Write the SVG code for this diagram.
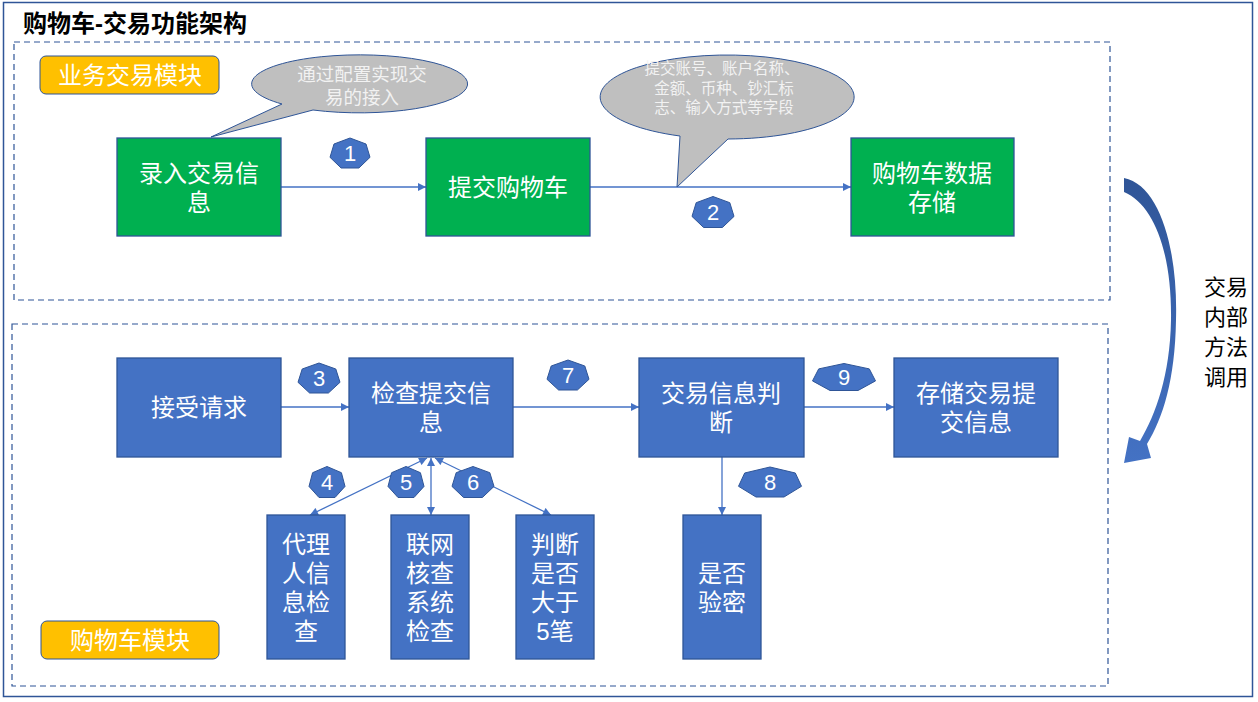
<svg xmlns="http://www.w3.org/2000/svg" width="1258" height="702" viewBox="0 0 1258 702">
<defs>
<style>
.t{font-family:"Liberation Sans","Noto Sans CJK SC",sans-serif;}
.w{fill:#FFFFFF;font-size:24px;text-anchor:middle;dominant-baseline:central;}
.w tspan{dominant-baseline:central;}
.g{fill:#00B050;stroke:#2F5597;stroke-width:1.3;}
.b{fill:#4472C4;stroke:#2F5597;stroke-width:1.3;}
.o{fill:#FFC000;stroke:#2F5597;stroke-width:1;}
.dash{fill:none;stroke:#2F5597;stroke-width:1.2;stroke-dasharray:6 4;}
.badge{fill:#4472C4;stroke:#2F5597;stroke-width:1;}
.num{fill:#FFFFFF;font-size:22px;text-anchor:middle;dominant-baseline:central;}
.conn{stroke:#4472C4;stroke-width:1.3;fill:none;}
.call{fill:#BFBFBF;stroke:#2F5597;stroke-width:1;}
.ct{fill:#F2F2F2;text-anchor:middle;dominant-baseline:central;}
.ct tspan{dominant-baseline:central;}
.side{fill:#000000;font-size:22px;text-anchor:middle;dominant-baseline:central;}
.side tspan{dominant-baseline:central;}
</style>
<marker id="ah" viewBox="0 0 10 10" refX="10" refY="5" markerWidth="9" markerHeight="8" markerUnits="userSpaceOnUse" orient="auto-start-reverse">
<path d="M0,0 L10,5 L0,10 z" fill="#4472C4"/>
</marker>
<linearGradient id="cg" x1="0" y1="0" x2="0" y2="1">
<stop offset="0" stop-color="#2F5597"/>
<stop offset="1" stop-color="#4472C4"/>
</linearGradient>
</defs>
<rect x="0" y="0" width="1258" height="702" fill="#FFFFFF"/>
<rect x="3.5" y="2.5" width="1249" height="694" fill="none" stroke="#2F5597" stroke-width="1.5"/>
<text class="t" x="23" y="23" font-size="24" font-weight="bold" fill="#000000" dominant-baseline="central">购物车-交易功能架构</text>

<rect class="dash" x="14" y="42" width="1096" height="258"/>
<rect class="dash" x="12" y="324" width="1096" height="362"/>

<g id="connectors">
<line class="conn" x1="281" y1="187" x2="426" y2="187" marker-end="url(#ah)"/>
<line class="conn" x1="590" y1="187" x2="851" y2="187" marker-end="url(#ah)"/>
<line class="conn" x1="281" y1="407" x2="349" y2="407" marker-end="url(#ah)"/>
<line class="conn" x1="513" y1="407" x2="639" y2="407" marker-end="url(#ah)"/>
<line class="conn" x1="804" y1="407" x2="894" y2="407" marker-end="url(#ah)"/>
<line class="conn" x1="722" y1="457" x2="722" y2="515" marker-end="url(#ah)"/>
<line class="conn" x1="427" y1="458" x2="310" y2="515" marker-start="url(#ah)" marker-end="url(#ah)"/>
<line class="conn" x1="431" y1="458" x2="431" y2="515" marker-start="url(#ah)" marker-end="url(#ah)"/>
<line class="conn" x1="435" y1="458" x2="551" y2="515" marker-start="url(#ah)" marker-end="url(#ah)"/>
</g>

<g id="label-business">
<rect class="o" x="40" y="56" width="179" height="38" rx="6"/>
<text class="t w" x="130" y="75">业务交易模块</text>
</g>
<g id="label-cart">
<rect class="o" x="41" y="621" width="178" height="38" rx="6"/>
<text class="t w" x="130" y="640">购物车模块</text>
</g>

<g id="callout-config">
<path class="call" d="M282,104 L211,137 L313,110 A108,29 0 1 0 282,104 Z"/>
<text class="t ct" font-size="18.5"><tspan x="362" y="74">通过配置实现交</tspan><tspan x="362" y="97">易的接入</tspan></text>
</g>
<g id="callout-fields">
<path class="call" d="M680,136 L677,187 L728,139 A127,42 0 1 0 680,136 Z"/>
<text class="t ct" font-size="15.5"><tspan x="722" y="68">提交账号、账户名称、</tspan><tspan x="724" y="88">金额、币种、钞汇标</tspan><tspan x="724" y="107">志、输入方式等字段</tspan></text>
</g>

<g id="node-input">
<rect class="g" x="117" y="138" width="164" height="98"/>
<text class="t w"><tspan x="199" y="173">录入交易信</tspan><tspan x="199" y="202">息</tspan></text>
</g>
<g id="node-submit">
<rect class="g" x="426" y="138" width="164" height="98"/>
<text class="t w" x="508" y="187">提交购物车</text>
</g>
<g id="node-store">
<rect class="g" x="851" y="138" width="163" height="98"/>
<text class="t w"><tspan x="932" y="173">购物车数据</tspan><tspan x="932" y="202">存储</tspan></text>
</g>

<g id="node-accept">
<rect class="b" x="117" y="358" width="164" height="99"/>
<text class="t w" x="199" y="407">接受请求</text>
</g>
<g id="node-check">
<rect class="b" x="349" y="358" width="164" height="99"/>
<text class="t w"><tspan x="431" y="393">检查提交信</tspan><tspan x="431" y="422">息</tspan></text>
</g>
<g id="node-judge">
<rect class="b" x="639" y="358" width="165" height="99"/>
<text class="t w"><tspan x="721" y="393">交易信息判</tspan><tspan x="721" y="422">断</tspan></text>
</g>
<g id="node-save">
<rect class="b" x="894" y="358" width="164" height="99"/>
<text class="t w"><tspan x="976" y="393">存储交易提</tspan><tspan x="976" y="422">交信息</tspan></text>
</g>

<g id="node-agent">
<rect class="b" x="267" y="515" width="78" height="144"/>
<text class="t w"><tspan x="306" y="544">代理</tspan><tspan x="306" y="573">人信</tspan><tspan x="306" y="602">息检</tspan><tspan x="306" y="631">查</tspan></text>
</g>
<g id="node-online">
<rect class="b" x="391" y="515" width="78" height="144"/>
<text class="t w"><tspan x="430" y="544">联网</tspan><tspan x="430" y="573">核查</tspan><tspan x="430" y="602">系统</tspan><tspan x="430" y="631">检查</tspan></text>
</g>
<g id="node-count">
<rect class="b" x="516" y="515" width="78" height="144"/>
<text class="t w"><tspan x="555" y="544">判断</tspan><tspan x="555" y="573">是否</tspan><tspan x="555" y="602">大于</tspan><tspan x="555" y="631">5笔</tspan></text>
</g>
<g id="node-pin">
<rect class="b" x="683" y="515" width="78" height="144"/>
<text class="t w"><tspan x="722" y="573">是否</tspan><tspan x="722" y="602">验密</tspan></text>
</g>

<g id="badge-1"><polygon class="badge" points="350,138 366,144 370,157.3 358.9,168 341.1,168 330,157.3 334,144"/><text class="t num" x="350" y="153">1</text></g>
<g id="badge-2"><polygon class="badge" points="713,196.5 729.8,202.7 734,216.4 722.4,227.5 703.6,227.5 692,216.4 696.2,202.7"/><text class="t num" x="713" y="212">2</text></g>
<g id="badge-3"><polygon class="badge" points="319,363 335.8,369 340,382.3 328.4,393 309.6,393 298,382.3 302.2,369"/><text class="t num" x="319" y="378">3</text></g>
<g id="badge-7"><polygon class="badge" points="568,360 584.8,366 589,379.3 577.4,390 558.6,390 547,379.3 551.2,366"/><text class="t num" x="568" y="375">7</text></g>
<g id="badge-9"><polygon class="badge" points="844,363.5 869.3,368.9 875.5,380.9 858,390.5 830,390.5 812.5,380.9 818.7,368.9"/><text class="t num" x="844" y="377">9</text></g>
<g id="badge-4"><polygon class="badge" points="327,466.5 341.4,472.7 345,486.4 335,497.5 319,497.5 309,486.4 312.6,472.7"/><text class="t num" x="327" y="482">4</text></g>
<g id="badge-5"><polygon class="badge" points="406,466.5 420.4,472.7 424,486.4 414,497.5 398,497.5 388,486.4 391.6,472.7"/><text class="t num" x="406" y="482">5</text></g>
<g id="badge-6"><polygon class="badge" points="473,466.5 489.8,472.7 494,486.4 482.4,497.5 463.6,497.5 452,486.4 456.2,472.7"/><text class="t num" x="473" y="482">6</text></g>
<g id="badge-8"><polygon class="badge" points="770,467 795.3,473 801.5,486.3 784,497 756,497 738.5,486.3 744.7,473"/><text class="t num" x="770" y="482">8</text></g>

<g id="curved-arrow">
<path d="M1124,178 C1160,185 1178,250 1176,320 C1175,380 1163,418 1147,444 L1151,458 L1124,463 L1129,437 L1140,441 C1156,414 1170,375 1171,320 C1172,255 1155,205 1124,192 Z" fill="url(#cg)"/>
</g>
<g id="side-label">
<text class="t side"><tspan x="1226" y="287">交易</tspan><tspan x="1226" y="317">内部</tspan><tspan x="1226" y="347">方法</tspan><tspan x="1226" y="377">调用</tspan></text>
</g>
</svg>
